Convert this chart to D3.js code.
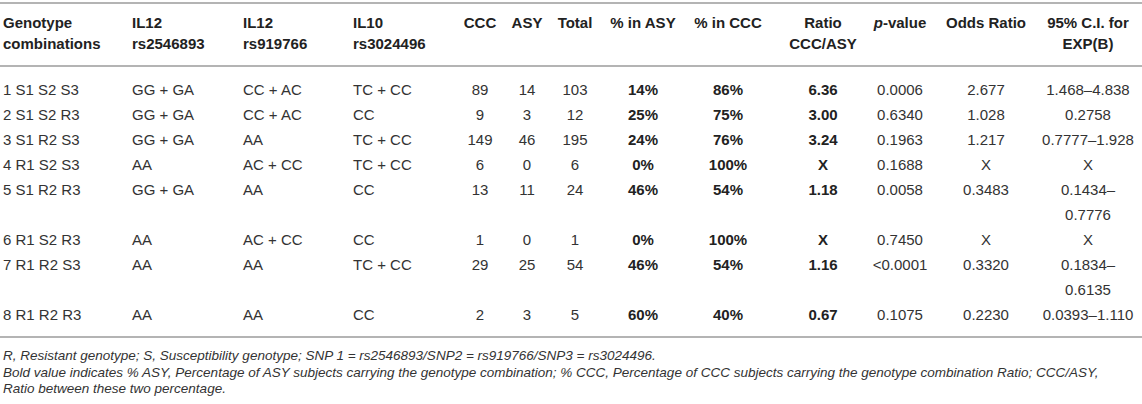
<!DOCTYPE html>
<html><head><meta charset="utf-8">
<script src="https://cdn.jsdelivr.net/npm/d3@7/dist/d3.min.js"></script>
<style>
html,body{margin:0;padding:0;background:#fff;}
svg{display:block;font-family:"Liberation Sans",Arial,Helvetica,sans-serif;}
</style></head>
<body>
<svg id="t" width="1142" height="404"></svg>
<script>
const headers = [
  ["Genotype","combinations"],["IL12","rs2546893"],["IL12","rs919766"],["IL10","rs3024496"],
  ["CCC"],["ASY"],["Total"],["% in ASY"],["% in CCC"],["Ratio","CCC/ASY"],["p-value"],["Odds Ratio"],["95% C.I. for","EXP(B)"]
];
const genotypes = ["1 S1 S2 S3","2 S1 S2 R3","3 S1 R2 S3","4 R1 S2 S3","5 S1 R2 R3","6 R1 S2 R3","7 R1 R2 S3","8 R1 R2 R3"];
const il12a = ["GG + GA","GG + GA","GG + GA","AA","GG + GA","AA","AA","AA"];
const il12b = ["CC + AC","CC + AC","AA","AC + CC","AA","AC + CC","AA","AA"];
const il10 = ["TC + CC","CC","TC + CC","TC + CC","CC","CC","TC + CC","CC"];
const ccc = [89,9,149,6,13,1,29,2];
const asy = [14,3,46,0,11,0,25,3];
const total = [103,12,195,6,24,1,54,5];
const pctAsy = ["14%","25%","24%","0%","46%","0%","46%","60%"];
const pctCcc = ["86%","75%","76%","100%","54%","100%","54%","40%"];
const ratio = ["6.36","3.00","3.24","X","1.18","X","1.16","0.67"];
const pval = ["0.0006","0.6340","0.1963","0.1688","0.0058","0.7450","<0.0001","0.1075"];
const odds = ["2.677","1.028","1.217","X","0.3483","X","0.3320","0.2230"];
const ci = [["1.468–4.838"],["0.2758"],["0.7777–1.928"],["X"],["0.1434–","0.7776"],["X"],["0.1834–","0.6135"],["0.0393–1.110"]];
const footnotes = [
  "R, Resistant genotype; S, Susceptibility genotype; SNP 1 = rs2546893/SNP2 = rs919766/SNP3 = rs3024496.",
  "Bold value indicates % ASY, Percentage of ASY subjects carrying the genotype combination; % CCC, Percentage of CCC subjects carrying the genotype combination Ratio; CCC/ASY,",
  "Ratio between these two percentage."
];

const columns = [genotypes, il12a, il12b, il10, ccc, asy, total, pctAsy, pctCcc, ratio, pval, odds, ci];
const colX = [3,132,243,353,480,527,575,643,728,823,900,986,1088];
const colAnchor = ["start","start","start","start","middle","middle","middle","middle","middle","middle","middle","middle","middle"];
const boldCols = new Set([7,8,9]);

const svg = d3.select("#t");
const W = 1142;
const lineColor = "#b4b4b4";
const textColor = "#333";

const rowLines = ci.map(c => c.length);
const rowStart = [];
rowLines.reduce((acc, n, i) => { rowStart[i] = acc; return acc + n; }, 0);
const nLines = d3.sum(rowLines);
const y = d3.scaleLinear().domain([0, nLines - 1]).range([95, 95 + (nLines - 1) * 25]);

[3, 66, 337].forEach(v => svg.append("line").attr("x1",0).attr("x2",W).attr("y1",v).attr("y2",v)
  .attr("stroke",lineColor).attr("stroke-width",2));

const hy = d3.scaleLinear().domain([0,1]).range([28,49]);
headers.forEach((h, c) => {
  const t = svg.append("text").attr("x", colX[c]).attr("text-anchor", colAnchor[c])
    .attr("font-size",15).attr("font-weight","bold").attr("fill","#222");
  h.forEach((s, k) => {
    const ts = t.append("tspan").attr("x", colX[c]).attr("y", hy(k));
    if (s === "p-value") {
      ts.append("tspan").attr("font-style","italic").text("p");
      ts.append("tspan").text("-value");
    } else ts.text(s);
  });
});

columns.forEach((col, c) => {
  col.forEach((v, r) => {
    const lines = Array.isArray(v) ? v : [String(v)];
    lines.forEach((s, k) => {
      svg.append("text").attr("x", colX[c]).attr("y", y(rowStart[r] + k))
        .attr("text-anchor", colAnchor[c]).attr("font-size",15)
        .attr("font-weight", boldCols.has(c) ? "bold" : "normal")
        .attr("fill", boldCols.has(c) ? "#222" : textColor).text(s);
    });
  });
});

const fy = d3.scaleLinear().domain([0,1]).range([360,376.5]);
footnotes.forEach((f, i) => svg.append("text").attr("x",3).attr("y",fy(i))
  .attr("font-size",13.5).attr("font-style","italic").attr("fill",textColor).text(f));
</script>
</body></html>
